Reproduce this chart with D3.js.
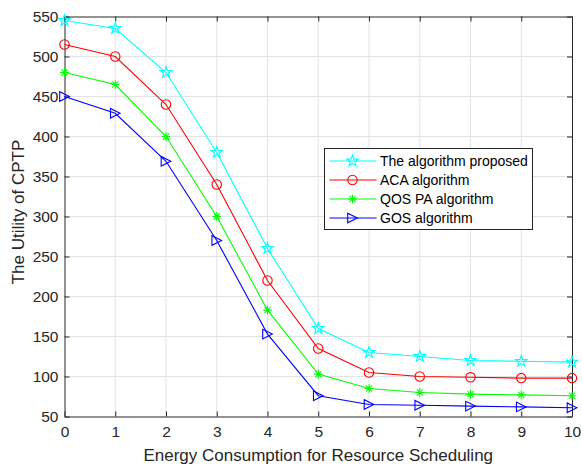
<!DOCTYPE html>
<html>
<head>
<meta charset="utf-8">
<title>Utility of CPTP</title>
<script src="https://d3js.org/d3.v7.min.js"></script>
<style>
  body { margin: 0; background: #fff; }
  svg { font-family: "Liberation Sans", Arial, sans-serif; }
</style>
</head>
<body>
<div id="chart"></div>
<script>
// data
var energy = [0, 1, 2, 3, 4, 5, 6, 7, 8, 9, 10];
var proposed = [545, 535, 480, 380, 260, 160, 130, 125, 120, 119, 118];
var aca = [515, 500, 440, 340, 220, 135, 105, 100, 99, 98, 98];
var qospa = [480, 465, 400, 300, 183, 103, 85, 80, 78, 77, 76];
var gos = [450, 429, 369, 270, 153, 76, 65, 64, 63, 62, 61];
var seriesNames = ["The algorithm proposed", "ACA algorithm", "QOS PA algorithm", "GOS algorithm"];
var yTicks = [50, 100, 150, 200, 250, 300, 350, 400, 450, 500, 550];

var W = 582, H = 465;
var m = {left: 64.5, right: 10, top: 16.5, bottom: 48.5};

var svg = d3.select("#chart").append("svg")
  .attr("width", W).attr("height", H);

var x = d3.scaleLinear().domain([0, 10]).range([m.left, W - m.right]);
var y = d3.scaleLinear().domain([50, 550]).range([H - m.bottom, m.top]);

// grid
svg.append("g").selectAll("line").data(energy.slice(1, -1)).enter().append("line")
  .attr("x1", d => x(d)).attr("x2", d => x(d))
  .attr("y1", y(50)).attr("y2", y(550))
  .attr("stroke", "#e3e3e3").attr("stroke-width", 1);
svg.append("g").selectAll("line").data(yTicks.slice(1, -1)).enter().append("line")
  .attr("x1", x(0)).attr("x2", x(10))
  .attr("y1", d => y(d)).attr("y2", d => y(d))
  .attr("stroke", "#e3e3e3").attr("stroke-width", 1);

// axes (ticks inward, mirrored like a boxed plot)
var tl = 5;
var axB = svg.append("g").attr("transform", "translate(0," + y(50) + ")")
  .call(d3.axisBottom(x).tickValues(energy).tickSizeInner(-tl).tickSizeOuter(0).tickPadding(9));
var axL = svg.append("g").attr("transform", "translate(" + x(0) + ",0)")
  .call(d3.axisLeft(y).tickValues(yTicks).tickSizeInner(-tl).tickSizeOuter(0).tickPadding(6));
var axT = svg.append("g").attr("transform", "translate(0," + y(550) + ")")
  .call(d3.axisTop(x).tickValues(energy).tickSizeInner(-tl).tickSizeOuter(0).tickFormat(""));
var axR = svg.append("g").attr("transform", "translate(" + x(10) + ",0)")
  .call(d3.axisRight(y).tickValues(yTicks).tickSizeInner(-tl).tickSizeOuter(0).tickFormat(""));
[axB, axL, axT, axR].forEach(function(a) {
  a.selectAll("path.domain").attr("stroke", "#262626").attr("stroke-width", 1);
  a.selectAll(".tick line").attr("stroke", "#262626");
  a.selectAll("text").attr("fill", "#262626").style("font-size", "15.5px")
    .style("font-family", "'Liberation Sans', Arial, sans-serif");
});

// axis labels
svg.append("text")
  .attr("x", (x(0) + x(10)) / 2).attr("y", 461)
  .attr("text-anchor", "middle").attr("fill", "#262626").style("font-size", "17px")
  .text("Energy Consumption for Resource Scheduling");
svg.append("text")
  .attr("transform", "translate(24,212) rotate(-90)")
  .attr("text-anchor", "middle").attr("fill", "#262626").style("font-size", "17px")
  .text("The Utility of CPTP");

// marker shapes
function starPath(r) {
  var ri = r * 0.382, p = [];
  for (var i = 0; i < 10; i++) {
    var a = -Math.PI / 2 + i * Math.PI / 5, rr = i % 2 ? ri : r;
    p.push([rr * Math.cos(a), rr * Math.sin(a)]);
  }
  return "M" + p.map(q => q[0].toFixed(2) + "," + q[1].toFixed(2)).join("L") + "Z";
}
function circlePath(r) {
  return "M" + r + ",0A" + r + "," + r + " 0 1,1 " + (-r) + ",0A" + r + "," + r + " 0 1,1 " + r + ",0Z";
}
function asteriskPath(r) {
  var d = r * 0.7071;
  return "M" + (-r) + ",0L" + r + ",0M0," + (-r) + "L0," + r +
    "M" + (-d) + "," + (-d) + "L" + d + "," + d + "M" + (-d) + "," + d + "L" + d + "," + (-d);
}
function triPath(r) {
  return "M" + r + ",0L" + (-r) + "," + (-r) + "L" + (-r) + "," + r + "Z";
}

var series = [
  {name: seriesNames[0], values: proposed, color: "#00ffff", shape: starPath(6)},
  {name: seriesNames[1], values: aca, color: "#ff0000", shape: circlePath(4.7)},
  {name: seriesNames[2], values: qospa, color: "#00ff00", shape: asteriskPath(4.3)},
  {name: seriesNames[3], values: gos, color: "#0000ff", shape: triPath(4.8)}
];

var line = d3.line().x((d, i) => x(energy[i])).y(d => y(d));

series.forEach(function(s) {
  svg.append("path").datum(s.values)
    .attr("d", line).attr("fill", "none")
    .attr("stroke", s.color).attr("stroke-width", 1.1);
  svg.append("g").selectAll("path").data(s.values).enter().append("path")
    .attr("transform", (d, i) => "translate(" + x(energy[i]) + "," + y(d) + ")")
    .attr("d", s.shape).attr("fill", "none")
    .attr("stroke", s.color).attr("stroke-width", 1.1);
});

// legend
var lg = svg.append("g").attr("transform", "translate(324.5,148.5)");
lg.append("rect").attr("width", 208).attr("height", 81)
  .attr("fill", "#fff").attr("stroke", "#262626").attr("stroke-width", 1);
series.forEach(function(s, i) {
  var yy = 12.5 + i * 19;
  lg.append("line").attr("x1", 5).attr("x2", 52).attr("y1", yy).attr("y2", yy)
    .attr("stroke", s.color).attr("stroke-width", 1.1);
  lg.append("path").attr("transform", "translate(28," + yy + ")")
    .attr("d", s.shape).attr("fill", "none").attr("stroke", s.color).attr("stroke-width", 1.1);
  lg.append("text").attr("x", 55.5).attr("y", yy + 5)
    .attr("fill", "#000").style("font-size", "14px").text(s.name);
});
</script>
</body>
</html>
